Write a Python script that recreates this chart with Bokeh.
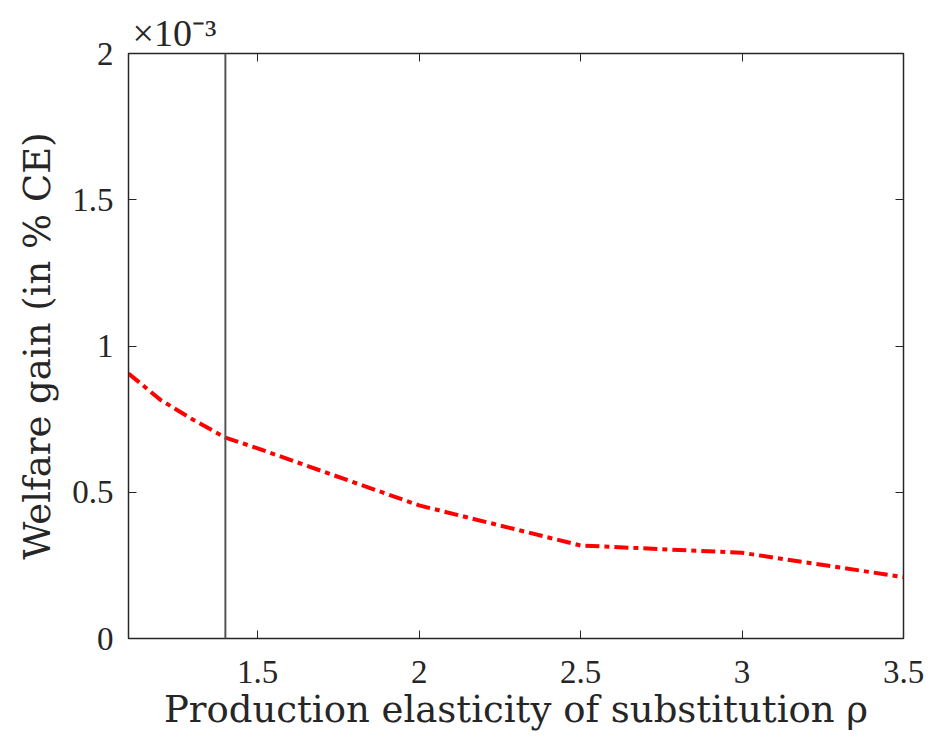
from bokeh.plotting import figure
from bokeh.models import Range1d, LinearAxis, FixedTicker, CustomJSTickFormatter, Span
from bokeh.embed import file_html
from bokeh.resources import INLINE

rho = [1.1, 1.2, 1.3, 1.4, 1.5, 2.0, 2.5, 3.0, 3.5]
gain = [0.906e-3, 0.815e-3, 0.748e-3, 0.687e-3, 0.650e-3, 0.455e-3, 0.318e-3, 0.293e-3, 0.210e-3]
rho_line = 1.4
x_ticks = [1.5, 2.0, 2.5, 3.0, 3.5]
y_ticks = [0.0, 0.5e-3, 1.0e-3, 1.5e-3, 2.0e-3]

FONT = "Liberation Serif"
LFONT = "DejaVu Serif"
INK = "#262626"

p = figure(width=925, height=740, output_backend="svg", toolbar_location=None,
           x_range=Range1d(1.1, 3.5), y_range=Range1d(0, 2e-3),
           min_border_left=128, min_border_right=22, min_border_top=53, min_border_bottom=102)
p.grid.visible = False
p.outline_line_color = INK
p.outline_line_width = 1.5
p.background_fill_color = "white"
p.border_fill_color = "white"

p.title.text = "×10⁻³"
p.title.text_font = FONT
p.title.text_font_size = "38px"
p.title.text_font_style = "normal"
p.title.text_color = INK
p.title.align = "left"
p.title.offset = 4
p.title.standoff = 0

p.xaxis.ticker = FixedTicker(ticks=x_ticks)
p.yaxis.ticker = FixedTicker(ticks=y_ticks)
p.yaxis.formatter = CustomJSTickFormatter(code="return (Math.round(tick*1e4)/10).toString();")

for ax in [p.xaxis[0], p.yaxis[0]]:
    ax.major_tick_in = 8
    ax.major_tick_out = 0
    ax.minor_tick_line_color = None
    ax.axis_line_color = INK
    ax.major_tick_line_color = INK
    ax.major_label_text_font = FONT
    ax.major_label_text_font_size = "33px"
    ax.major_label_text_color = INK
    ax.axis_label_text_font = LFONT
    ax.axis_label_text_font_size = "37px"
    ax.axis_label_text_font_style = "normal"
    ax.axis_label_text_color = INK

p.xaxis.axis_label = "Production elasticity of substitution ρ"
p.yaxis.axis_label = "Welfare gain (in % CE)"
p.xaxis.major_label_standoff = 22
p.yaxis.major_label_standoff = 15
p.xaxis.axis_label_standoff = 2
p.yaxis.axis_label_standoff = 10

empty = CustomJSTickFormatter(code="return '';")
top = LinearAxis(ticker=FixedTicker(ticks=x_ticks), formatter=empty,
                 major_tick_in=8, major_tick_out=0, minor_tick_line_color=None,
                 axis_line_color=INK, major_tick_line_color=INK, major_label_standoff=0)
right = LinearAxis(ticker=FixedTicker(ticks=y_ticks), formatter=CustomJSTickFormatter(code="return '';"),
                   major_tick_in=8, major_tick_out=0, minor_tick_line_color=None,
                   axis_line_color=INK, major_tick_line_color=INK, major_label_standoff=0)
p.add_layout(top, "above")
p.add_layout(right, "right")

p.add_layout(Span(location=rho_line, dimension="height", line_color="#555555", line_width=2))

p.line(rho, gain, line_color="red", line_width=4, line_dash="14 5 5 5")

open("out.html", "w").write(file_html(p, INLINE))
